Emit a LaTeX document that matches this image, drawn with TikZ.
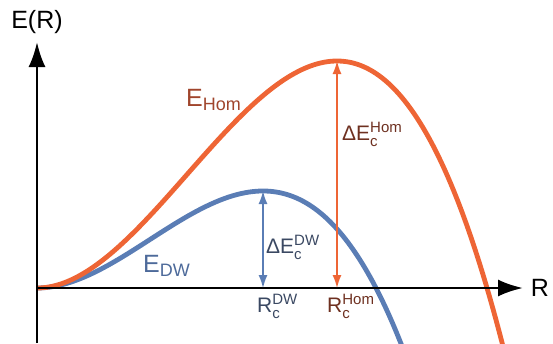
\documentclass[tikz,border=0pt]{standalone}
\usepackage{fontspec}
\usepackage{amsmath}
\setmainfont{Liberation Sans}
\usetikzlibrary{arrows.meta}
\definecolor{homcurve}{HTML}{EE6535}
\definecolor{dwcurve}{HTML}{5A7DB5}
\definecolor{homtext}{HTML}{A0452C}
\definecolor{homdark}{HTML}{6E3020}
\definecolor{dwtext}{HTML}{4D6A9A}
\definecolor{dwdark}{HTML}{3A4862}
\newcommand\lblsub[3]{$\text{#1}_{\text{\fontsize{#3}{#3}\selectfont #2}}$}
\newcommand\lblboth[4]{$\text{#1}_{\text{\fontsize{#4}{#4}\selectfont #2}}^{\text{\fontsize{#4}{#4}\selectfont #3}}$}
\begin{document}
\begin{tikzpicture}[x=1pt,y=-1pt,
  axisline/.style={line width=2.6pt,-{Latex[length=25pt,width=17pt]}},
  curve/.style={line width=4.8pt},
  gap/.style={line width=1.5pt,{Latex[length=13pt,width=9pt]}-{Latex[length=13pt,width=9pt]}},
  biglbl/.style={font=\fontsize{25}{25}\selectfont, inner sep=0pt},
  midlbl/.style={font=\fontsize{21}{21}\selectfont, inner sep=0pt}]
\useasboundingbox (0,0) rectangle (553,343);
% curves
\draw[curve, dwcurve, domain=37:404, samples=120]
  plot (\x, {288 - 97*(3*((\x-37)/226)^2 - 2*((\x-37)/226)^3)});
\draw[curve, homcurve, domain=37:505, samples=150]
  plot (\x, {288 - 227*(3*((\x-37)/300)^2 - 2*((\x-37)/300)^3)});
% axes
\coordinate (O) at (37,288);
\coordinate (ybot) at (37,343);
\coordinate (ytop) at (37,42);
\coordinate (xend) at (523,288);
\draw[axisline] (ybot) -- (ytop);
\draw[axisline] (O) -- (xend);
% critical points
\coordinate (dwtop) at (263,191);
\coordinate (dwbase) at (263,288);
\coordinate (homtop) at (337,61);
\coordinate (hombase) at (337,288);
\draw[gap, dwcurve] (dwtop) -- (dwbase);
\draw[gap, homcurve] (homtop) -- (hombase);
% labels
\node[biglbl, anchor=center] (ER) at (37,22) {E(R)};
\node[biglbl, anchor=center] (Rl) at (540,288) {R};
\node[biglbl, text=homtext, anchor=west] (EHom) at (186,100) {\lblsub{E}{Hom}{18}};
\node[biglbl, text=dwtext, anchor=west] (EDW) at (143,266) {\lblsub{E}{DW}{18}};
\node[midlbl, text=homdark, anchor=west] (dEHom) at (342,134) {\lblboth{ΔE}{c}{Hom}{15}};
\node[midlbl, text=dwdark, anchor=west] (dEDW) at (266,247) {\lblboth{ΔE}{c}{DW}{15}};
\node[midlbl, text=dwdark, anchor=west] (RcDW) at (257,306) {\lblboth{R}{c}{DW}{15}};
\node[midlbl, text=homdark, anchor=west] (RcHom) at (327,306) {\lblboth{R}{c}{Hom}{15}};
\end{tikzpicture}
\end{document}
